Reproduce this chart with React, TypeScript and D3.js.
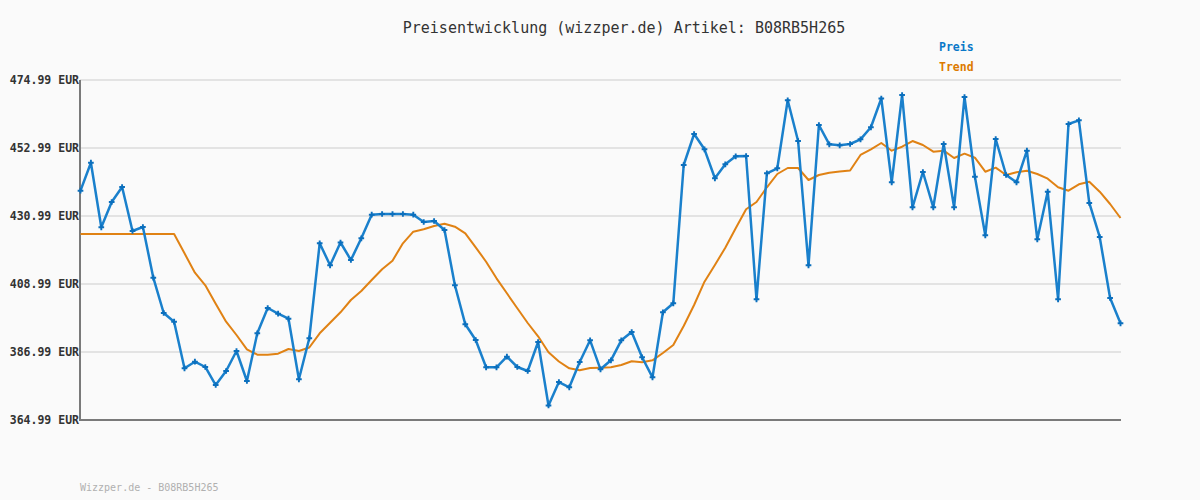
import React, { useEffect, useRef } from "react";
import * as d3 from "d3";

const title = "Preisentwicklung (wizzper.de) Artikel: B08RB5H265";
const footer = "Wizzper.de - B08RB5H265";
const yTicks = [364.99, 386.99, 408.99, 430.99, 452.99, 474.99];
const seriesNames = ["Preis", "Trend"];

const preis = [
  439.18, 448.23, 427.33, 435.52, 440.37, 426.14, 427.43, 411.03, 399.61, 396.79,
  381.72, 383.85, 382.14, 376.31, 380.84, 387.31, 377.61, 393.04, 401.23, 399.38,
  397.76, 378.16, 391.42, 422.16, 415.04, 422.42, 416.75, 423.78, 431.41, 431.64,
  431.64, 431.64, 431.41, 429.05, 429.37, 426.46, 408.57, 395.95, 390.87, 382.04,
  382.04, 385.47, 382.14, 380.84, 390.22, 369.68, 377.28, 375.57, 383.76, 390.77,
  381.39, 384.3, 390.77, 393.46, 385.28, 378.8, 399.83, 402.75, 447.49, 457.52,
  452.57, 443.19, 447.72, 450.3, 450.4, 404.04, 444.8, 446.42, 468.42, 455.25,
  415.04, 460.43, 454.19, 453.86, 454.28, 455.8, 459.69, 469.0, 441.89, 470.14,
  433.8, 445.23, 433.8, 454.28, 433.8, 469.49, 443.7, 424.75, 455.9, 444.25,
  441.89, 452.12, 423.45, 438.85, 404.04, 460.75, 461.95, 435.2, 424.2, 404.46,
  396.28,
];

const trend = [
  425.17, 425.17, 425.17, 425.17, 425.17, 425.17, 425.17, 425.17, 425.17, 425.17,
  418.92, 412.65, 408.57, 402.62, 396.79, 392.49, 387.86, 386.12, 386.12, 386.44,
  387.96, 387.31, 388.45, 393.04, 396.47, 399.83, 403.81, 406.73, 410.28, 413.75,
  416.53, 422.16, 425.91, 426.69, 427.75, 428.5, 427.53, 425.39, 420.86, 416.2,
  410.83, 405.98, 401.13, 396.37, 392.07, 386.93, 383.92, 381.72, 381.07, 381.81,
  381.91, 382.04, 382.78, 383.98, 383.69, 384.3, 386.67, 389.25, 395.4, 402.2,
  409.73, 415.14, 420.73, 427.01, 433.16, 435.52, 440.28, 444.58, 446.52, 446.52,
  442.64, 444.25, 445.0, 445.39, 445.71, 450.73, 452.57, 454.61, 452.12, 453.41,
  455.25, 453.96, 451.79, 452.12, 449.75, 451.15, 449.85, 445.32, 446.62, 444.25,
  445.13, 445.65, 444.58, 443.06, 440.28, 439.18, 441.25, 442.09, 438.85, 434.87,
  430.34,
];

const W = 1200;
const H = 500;
const M = { left: 80, right: 1121, top: 80, bottom: 420 };
const MONO = "'DejaVu Sans Mono', 'Liberation Mono', monospace";
const BLUE = "#1a80cc";
const ORANGE = "#e08214";

export default function App() {
  const ref = useRef<SVGSVGElement | null>(null);

  useEffect(() => {
    document.body.style.margin = "0";
    document.body.style.background = "#fafafa";
    const svg = d3.select(ref.current);
    svg.selectAll("*").remove();

    const x = d3.scaleLinear().domain([0, preis.length - 1]).range([M.left + 0.5, M.right - 0.5]);
    const y = d3.scaleLinear().domain([364.99, 474.99]).range([M.bottom, M.top]);

    svg.append("rect").attr("width", W).attr("height", H).attr("fill", "#fafafa");

    // gridlines
    svg.append("g")
      .selectAll("line")
      .data(yTicks.slice(1))
      .join("line")
      .attr("x1", M.left)
      .attr("x2", M.right)
      .attr("y1", (d) => y(d))
      .attr("y2", (d) => y(d))
      .attr("stroke", "#e3e3e3")
      .attr("stroke-width", 2);

    // y labels
    svg.append("g")
      .selectAll("text")
      .data(yTicks)
      .join("text")
      .attr("x", M.left - 1)
      .attr("y", (d) => y(d) + 4)
      .attr("text-anchor", "end")
      .attr("font-family", MONO)
      .attr("font-size", 11.5)
      .attr("font-weight", "bold")
      .attr("fill", "#333")
      .text((d) => `${d.toFixed(2)} EUR`);

    // axes
    svg.append("line")
      .attr("x1", M.left).attr("x2", M.left)
      .attr("y1", M.top).attr("y2", M.bottom + 1)
      .attr("stroke", "#7a7a7a").attr("stroke-width", 2);
    svg.append("line")
      .attr("x1", M.left).attr("x2", M.right)
      .attr("y1", M.bottom).attr("y2", M.bottom)
      .attr("stroke", "#7a7a7a").attr("stroke-width", 2);

    const line = d3.line<number>().x((_, i) => x(i)).y((d) => y(d));

    svg.append("path")
      .attr("d", line(trend) || "")
      .attr("fill", "none")
      .attr("stroke", ORANGE)
      .attr("stroke-width", 2)
      .attr("stroke-linejoin", "round");

    svg.append("path")
      .attr("d", line(preis) || "")
      .attr("fill", "none")
      .attr("stroke", BLUE)
      .attr("stroke-width", 2.5)
      .attr("stroke-linejoin", "round");

    const sym = d3.symbol().type(d3.symbolCross).size(18);
    svg.append("g")
      .selectAll("path")
      .data(preis)
      .join("path")
      .attr("transform", (d, i) => `translate(${x(i)},${y(d)})`)
      .attr("d", sym() || "")
      .attr("fill", "#0b6fbd");

    // title
    svg.append("text")
      .attr("x", 624)
      .attr("y", 33)
      .attr("text-anchor", "middle")
      .attr("font-family", MONO)
      .attr("font-size", 15)
      .attr("fill", "#333")
      .text(title);

    // legend
    svg.append("g")
      .selectAll("text")
      .data(seriesNames)
      .join("text")
      .attr("x", 939)
      .attr("y", (_, i) => 51 + i * 20)
      .attr("font-family", MONO)
      .attr("font-size", 11.5)
      .attr("font-weight", "bold")
      .attr("fill", (_, i) => (i === 0 ? "#0a78c8" : "#dd7a00"))
      .text((d) => d);

    // footer
    svg.append("text")
      .attr("x", 80)
      .attr("y", 491)
      .attr("font-family", MONO)
      .attr("font-size", 10)
      .attr("fill", "#b0b0b0")
      .text(footer);
  }, []);

  return (
    <svg
      ref={ref}
      width={W}
      height={H}
      style={{ position: "absolute", left: 0, top: 0, display: "block" }}
    />
  );
}
